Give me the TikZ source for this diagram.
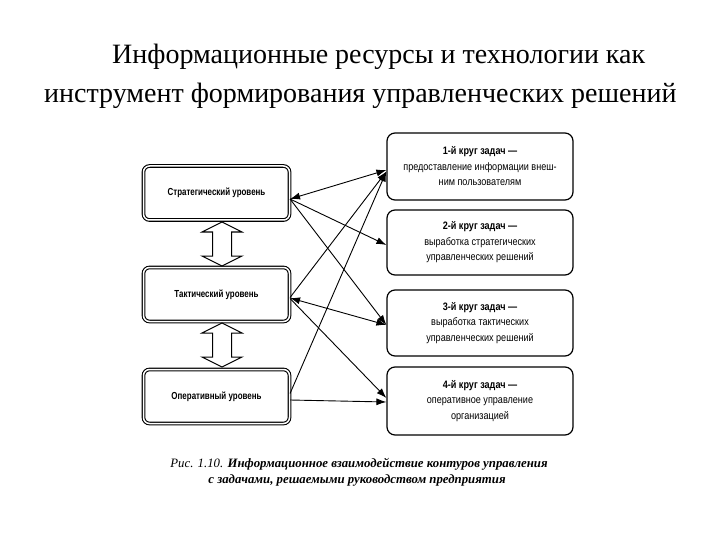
\documentclass[tikz,border=0pt]{standalone}
\usepackage{fontspec}
\setmainfont{Liberation Serif}
\newfontfamily\titlefont{Liberation Serif}
\newfontfamily\narrow[FakeStretch=0.84]{Liberation Sans}
\newfontfamily\levelfont[FakeStretch=0.78]{Liberation Sans}
\usetikzlibrary{arrows.meta,calc}
\begin{document}
\begin{tikzpicture}[x=1pt,y=-1pt,
 level/.style={draw, double, double distance=1.5pt, line width=1.1pt, rounded corners=6pt,
   minimum width=146pt, minimum height=54pt, inner sep=0pt,
   font=\levelfont\bfseries\fontsize{10.2}{12}\selectfont},
 task/.style={draw, line width=1.2pt, rounded corners=8pt, minimum width=186pt,
   minimum height=66pt, align=center, inner sep=0pt,
   font=\narrow\fontsize{10.8}{15.5}\selectfont},
 link/.style={line width=0.9pt, -{Latex[length=10pt,width=7pt]}},
 blink/.style={line width=0.9pt, {Latex[length=10pt,width=7pt]}-{Latex[length=10pt,width=7pt]}},
 blockarrow/.style={draw, line width=1pt, fill=white, line join=miter},
 title/.style={anchor=base west, inner sep=0pt, font=\titlefont\fontsize{28}{32}\selectfont},
 caption/.style={anchor=base, inner sep=0pt, font=\titlefont\bfseries\itshape\fontsize{12.8}{15}\selectfont}
]
\useasboundingbox (0,0) rectangle (720,540);

% title
\node[title] (t1) at (112,64) {Информационные ресурсы и технологии как};
\node[title] (t2) at (44,103) {инструмент формирования управленческих решений};

% levels
\node[level] (s) at (216.5,193) {Стратегический уровень};
\node[level] (t) at (216.5,294.5) {Тактический уровень};
\node[level] (o) at (216.5,396.5) {Оперативный уровень};

% tasks
\node[task, minimum height=67pt] (b1) at (480,166.5) {\bfseries 1-й круг задач —\\предоставление информации внеш-\\ним пользователям};
\node[task, minimum height=65pt] (b2) at (480,242.5) {\bfseries 2-й круг задач —\\выработка стратегических\\управленческих решений};
\node[task, minimum height=66pt] (b3) at (480,323) {\bfseries 3-й круг задач —\\выработка тактических\\управленческих решений};
\node[task, minimum height=68pt] (b4) at (480,401) {\bfseries 4-й круг задач —\\оперативное управление\\организацией};

% block arrows between levels
\draw[blockarrow] (222,222) -- (242,232) -- (231.5,232) -- (231.5,256) -- (242,256) -- (222,266)
  -- (202,256) -- (212.5,256) -- (212.5,232) -- (202,232) -- cycle;
\draw[blockarrow] (222,323) -- (242,333) -- (231.5,333) -- (231.5,357) -- (242,357) -- (222,367)
  -- (202,357) -- (212.5,357) -- (212.5,333) -- (202,333) -- cycle;

% connectors
\draw[blink] ([yshift=-6pt]s.east) -- ([yshift=-3.5pt]b1.west);
\draw[link] ([yshift=-6pt]s.east) -- ([yshift=-2.5pt]b2.west);
\draw[link] ([yshift=-6pt]s.east) -- ([yshift=-2pt]b3.west);
\draw[link] ([yshift=-3pt]t.east) -- ([yshift=-5pt]b1.west);
\draw[blink] ([yshift=-3.5pt]t.east) -- ([yshift=-2pt]b3.west);
\draw[link] ([yshift=-4pt]t.east) -- ([yshift=3pt]b4.west);
\draw[link] ([yshift=3pt]o.east) -- ([yshift=-5pt]b1.west);
\draw[link] ([yshift=-3.5pt]o.east) -- ([yshift=-1pt]b4.west);

% caption
\node[caption] (c1) at (359,467) {{\mdseries Рис. 1.10.} Информационное взаимодействие контуров управления};
\node[caption] (c2) at (357,483) {с задачами, решаемыми руководством предприятия};
\end{tikzpicture}
\end{document}
